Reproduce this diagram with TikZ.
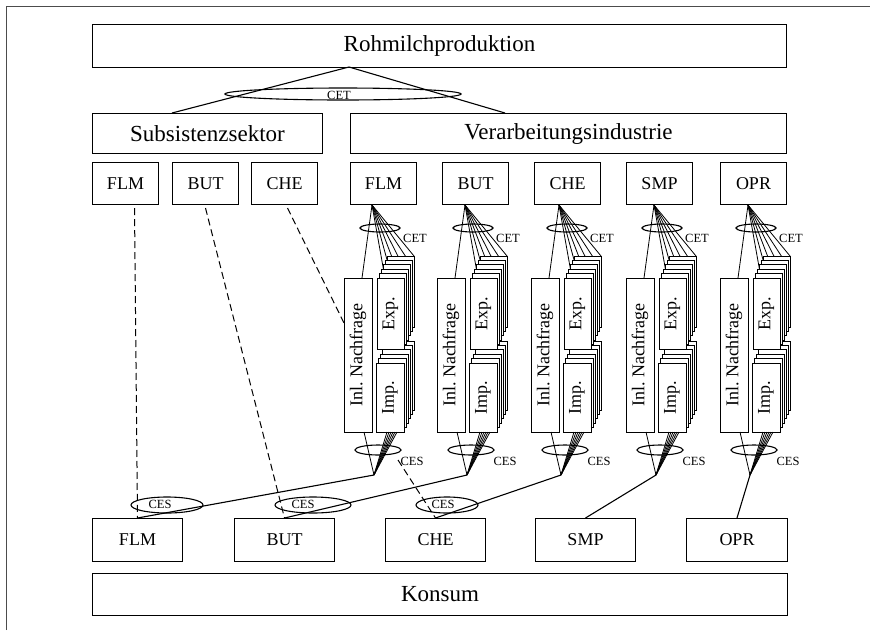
\documentclass[tikz,border=0pt]{standalone}
\usepackage{fontspec}
\setmainfont{Liberation Serif}
\usetikzlibrary{calc}

\begin{document}
\begin{tikzpicture}[x=1pt, y=-1pt,
    box/.style={draw, line width=1pt, inner sep=0pt, fill=white},
    big/.style={font=\fontsize{23}{25}\selectfont},
    mid/.style={font=\fontsize{18}{20}\selectfont},
    tiny/.style={font=\fontsize{12.5}{13}\selectfont, inner sep=0pt},
    fan/.style={line width=0.8pt},
    oval/.style={line width=1.1pt},
    link/.style={line width=1.1pt},
    sub/.style={line width=1pt, dash pattern=on 7pt off 4pt}]

    \useasboundingbox (0,0) rectangle (870,630);
    \draw[black!70, line width=0.8pt] (6,630) -- (6,6) -- (870,6);

    % Rohmilch und Sektoren
    \node[box, big, anchor=north west, minimum width=694, minimum height=43] (roh) at (92,24) {Rohmilchproduktion};
    \node[box, big, anchor=north west, minimum width=230, minimum height=40] (subs) at (92,113) {Subsistenzsektor};
    \node[box, big, anchor=north west, minimum width=436, minimum height=40] (verb) at (350,113) {Verarbeitungsindustrie};

    \coordinate (roh-a) at (349,67);
    \draw[link] ($(subs.north west)+(80,0)$) -- (roh-a) -- ($(verb.north west)+(155,0)$);
    \draw[oval] (343,94) ellipse [x radius=118, y radius=6];
    \node[tiny] at (339,95) {CET};

    % Produkte oben
    \foreach \x/\t/\n in {92/FLM/sflm, 172/BUT/sbut, 251/CHE/sche,
                          350/FLM/flm, 442/BUT/but, 534/CHE/che, 626/SMP/smp, 720/OPR/opr}
        \node[box, mid, anchor=north west, minimum width=66, minimum height=42] (\n) at (\x,162) {\t};

    % Produkte unten und Konsum
    \foreach \x/\w/\t/\n in {92/90/FLM/bflm, 234/100/BUT/bbut, 385/100/CHE/bche,
                             535/100/SMP/bsmp, 686/101/OPR/bopr}
        \node[box, mid, anchor=north west, minimum width=\w, minimum height=43] (\n) at (\x,518) {\t};
    \node[box, big, anchor=north west, minimum width=695, minimum height=42] (kons) at (92,573) {Konsum};

    % Subsistenz: gestrichelt
    \coordinate (sche-in) at (344,323);
    \coordinate (sche-out) at (398,460);
    \draw[sub] ($(sflm.south)+(9,3)$) -- (bflm.north);
    \draw[sub] ($(sbut.south)+(0,3)$) -- (bbut.north);
    \draw[sub] ($(sche.south)+(3,3)$) -- (sche-in);
    \draw[sub] (sche-out) -- (bche.north);

    % Stapel je Produkt
    \foreach \L/\n in {344/flm, 437/but, 531/che, 626/smp, 720/opr} {
        \coordinate (\n-t) at (\L+28,205);
        \coordinate (\n-b) at (\L+30,475);
        \draw[fan] (\n-t) -- (\L+18,278);
        \foreach \k in {0,...,5}
            \draw[fan] (\n-t) -- (\L+41+5.8*\k, 278-4.4*\k);
        \draw[oval] (\L+36,228) ellipse [x radius=20, y radius=4];
        \node[tiny] at (\L+71,238) {CET};
        \foreach \k in {5,...,1} {
            \draw[box] (\L+33+2*\k, 278-4.4*\k) rectangle +(27,71);
            \draw[box] (\L+32+2*\k, 363-4.4*\k) rectangle +(28,69);
        }
        \node[box, mid, rotate=90, minimum width=154, minimum height=28] (\n-inl) at (\L+14,355) {Inl.~Nachfrage};
        \node[box, mid, rotate=90, minimum width=71, minimum height=27] (\n-exp) at (\L+46.5,313.5) {Exp.};
        \node[box, mid, rotate=90, minimum width=69, minimum height=28] (\n-imp) at (\L+46,397.5) {Imp.};
        \draw[fan] (\L+20,432) -- (\n-b);
        \foreach \k in {0,...,5}
            \draw[fan] (\L+43+2*\k,432) -- (\n-b);
        \draw[oval] (\L+34,450) ellipse [x radius=23, y radius=5];
        \node[tiny] at (\L+68,461) {CES};
    }

    % zum Konsum
    \foreach \n/\m in {flm/bflm, but/bbut, che/bche, smp/bsmp, opr/bopr}
        \draw[link] (\n-b) -- (\m.north);
    \foreach \x/\r/\lx in {167/36/160, 313/38/303, 447/31/443} {
        \draw[oval] (\x,505) ellipse [x radius=\r, y radius=8];
        \node[tiny] at (\lx,504) {CES};
    }
\end{tikzpicture}
\end{document}
